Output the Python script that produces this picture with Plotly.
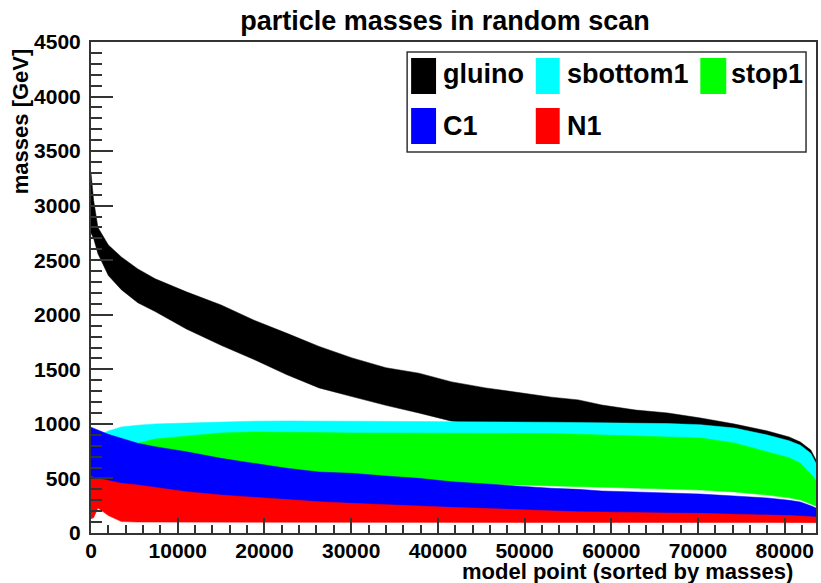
import plotly.graph_objects as go

# ---- data ----
X = [0, 300, 800, 2000, 3500, 5400, 7400, 11000, 15000, 18800, 22600, 26300, 30100,
     34000, 37800, 41600, 45500, 49300, 53100, 56200, 58900, 62800, 66500, 70300,
     74200, 78000, 80500, 81800, 83000, 83600]

gluino_hi = [3300, 3050, 2800, 2640, 2530, 2420, 2330, 2210, 2090, 1950, 1830, 1710, 1605,
             1515, 1465, 1385, 1330, 1285, 1245, 1220, 1173, 1127, 1100, 1054,
             999, 935, 880, 834, 761, 669]
gluino_lo = [2750, 2700, 2560, 2360, 2230, 2110, 2030, 1870, 1720, 1590, 1450, 1330, 1250,
             1170, 1100, 1025, 990, 980, 970, 960, 950, 940, 920, 900,
             870, 820, 780, 740, 660, 580]

sbottom1_hi = [850, 865, 890, 935, 972, 988, 1000, 1008, 1018, 1025, 1027, 1027, 1027,
               1025, 1022, 1020, 1020, 1018, 1015, 1012, 1010, 1008, 1003, 992,
               962, 898, 845, 805, 730, 640]
sbottom1_lo = [670, 670, 670, 670, 670, 670, 670, 660, 640, 610, 580, 550, 530,
               500, 480, 465, 465, 460, 452, 448, 442, 432, 423, 414,
               396, 368, 342, 322, 286, 265]

stop1_hi = [760, 770, 780, 790, 805, 822, 862, 889, 917, 926, 926, 920, 917,
            917, 917, 917, 917, 915, 912, 905, 898, 893, 882, 871,
            825, 743, 690, 640, 540, 480]
stop1_lo = [650, 650, 650, 650, 650, 650, 650, 640, 620, 590, 560, 530, 510,
            480, 460, 445, 445, 440, 432, 428, 422, 412, 403, 394,
            376, 348, 322, 302, 266, 245]

C1_hi = [970, 960, 945, 904, 868, 822, 791, 745, 684, 639, 593, 559, 547,
         522, 501, 470, 449, 431, 410, 400, 385, 376, 367, 357,
         339, 321, 300, 284, 250, 229]
C1_lo = [460, 450, 440, 420, 395, 380, 360, 320, 290, 270, 245, 230, 215,
         200, 190, 180, 170, 160, 150, 145, 140, 135, 130, 130,
         125, 120, 115, 110, 110, 110]

N1_hi = [520, 510, 501, 480, 455, 440, 419, 379, 348, 327, 302, 287, 272,
         257, 248, 235, 223, 211, 202, 195, 193, 186, 183, 180,
         174, 165, 160, 155, 150, 147]
N1_lo = [130, 140, 230, 160, 105, 100, 97, 95, 95, 95, 95, 95, 95,
         95, 95, 95, 95, 95, 95, 95, 95, 95, 95, 95,
         95, 95, 95, 95, 95, 95]

names = ["gluino", "sbottom1", "stop1", "C1", "N1"]
colors = ["#000000", "#00FFFF", "#00FF00", "#0000FF", "#FF0000"]
uppers = [gluino_hi, sbottom1_hi, stop1_hi, C1_hi, N1_hi]
lowers = [gluino_lo, sbottom1_lo, stop1_lo, C1_lo, N1_lo]

FONT = "Liberation Sans"

fig = go.Figure()
for name, col, hi, lo in zip(names, colors, uppers, lowers):
    fig.add_trace(go.Scatter(
        x=X + X[::-1], y=hi + lo[::-1], fill="toself", fillcolor=col,
        mode="lines", line=dict(color=col, width=0.5), name=name,
        hoverinfo="skip"))

# ---- axes ----
axis_common = dict(showline=True, linecolor="#333333", linewidth=2, mirror=True,
                   showgrid=False, zeroline=False, ticks="inside",
                   tickcolor="#333333", tickwidth=1.5,
                   tickfont=dict(family=FONT, size=21, weight="bold", color="black"))
fig.update_xaxes(range=[0, 83600], tick0=0, dtick=10000, ticklen=15, tickformat="d",
                 minor=dict(dtick=2000, ticks="inside", ticklen=8, tickcolor="#333333", tickwidth=1.5),
                 ticklabelstandoff=-2, **axis_common)
fig.update_yaxes(range=[0, 4500], tick0=0, dtick=500, ticklen=22, tickformat="d",
                 minor=dict(dtick=100, ticks="inside", ticklen=11, tickcolor="#333333", tickwidth=1.5),
                 ticklabelstandoff=4, **axis_common)

# ---- legend drawn as a ROOT-style box ----
L, R, T, B = 91, 818, 42, 533
def px(xp): return (xp - L) / (R - L)
def py(yp): return (B - yp) / (B - T)

shapes = [dict(type="rect", xref="paper", yref="paper", x0=px(408), x1=px(808), y0=py(152), y1=py(52),
               line=dict(color="#333333", width=1.5), fillcolor="white", layer="above")]
annotations = []
cols_x = [(412, 437, 442), (537, 561, 566), (702, 728, 731)]
rows_y = [(58, 94, 74), (108, 144, 126)]
for i, (name, col) in enumerate(zip(names, colors)):
    r, c = divmod(i, 3)
    sx0, sx1, tx = cols_x[c]
    sy0, sy1, ty = rows_y[r]
    shapes.append(dict(type="rect", xref="paper", yref="paper", x0=px(sx0), x1=px(sx1),
                       y0=py(sy1), y1=py(sy0), line=dict(width=0), fillcolor=col, layer="above"))
    annotations.append(dict(text=name, xref="paper", yref="paper", x=px(tx), y=py(ty),
                            xanchor="left", yanchor="middle", showarrow=False,
                            font=dict(family=FONT, size=27, weight="bold", color="black")))

# axis titles (ROOT style: right / top aligned)
annotations.append(dict(text="model point (sorted by masses)", xref="paper", yref="paper",
                        x=px(797), y=py(571), xanchor="right", yanchor="middle", showarrow=False,
                        font=dict(family=FONT, size=22, weight="bold", color="black")))
annotations.append(dict(text="masses [GeV]", xref="paper", yref="paper", textangle=-90,
                        x=px(20), y=py(46), xanchor="center", yanchor="top", showarrow=False,
                        font=dict(family=FONT, size=22, weight="bold", color="black")))

fig.update_layout(
    width=821, height=583,
    margin=dict(l=L, r=821 - R, t=T, b=583 - B),
    plot_bgcolor="white", paper_bgcolor="white", showlegend=False,
    title=dict(text="particle masses in random scan", xref="container", yref="container",
               x=445 / 821, xanchor="center", y=1 - 21 / 583, yanchor="middle",
               font=dict(family=FONT, size=27, weight="bold", color="black")),
    shapes=shapes, annotations=annotations)

fig.write_html("out.html")
